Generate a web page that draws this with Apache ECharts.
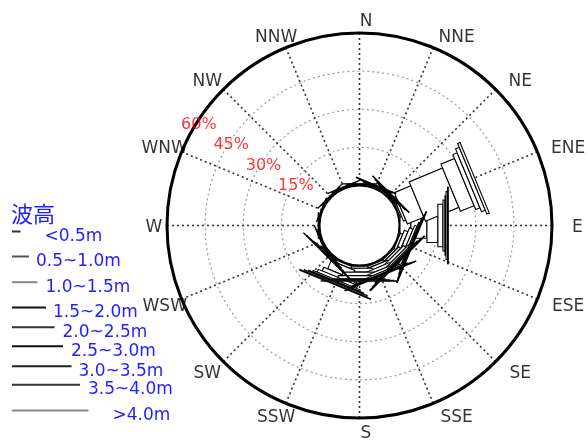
<!DOCTYPE html>
<html>
<head>
<meta charset="utf-8">
<script src="https://cdn.jsdelivr.net/npm/echarts@6/dist/echarts.min.js"></script>
<style>
  html, body { margin: 0; padding: 0; background: #fff; }
  #chart { width: 588px; height: 440px; }
</style>
</head>
<body>
<div id="chart"></div>
<script>
// Wave rose: frequency (%) of wave height classes by direction
const directions = ['N', 'NNE', 'NE', 'ENE', 'E', 'ESE', 'SE', 'SSE', 'S', 'SSW', 'SW', 'WSW', 'W', 'WNW', 'NW', 'NNW'];
const classNames = ['<0.5m', '0.5~1.0m', '1.0~1.5m', '1.5~2.0m', '2.0~2.5m', '2.5~3.0m', '3.0~3.5m', '3.5~4.0m', '>4.0m'];

const h_lt05   = [0.2, 0.2, 0.2, 0.3, 0.2, 0.3, 0.3, 0.3, 0.3, 0.3, 0.3, 0.2, 0.2, 0.2, 0.2, 0.2];
const h_05_10  = [0.2, 0.3, 0.3, 0.6, 4.3, 1.0, 0.8, 0.8, 0.8, 1.0, 0.4, 0.2, 0.2, 0.2, 0.2, 0.2];
const h_10_15  = [0.2, 0.4, 0.4, 1.0, 6.3, 1.5, 1.0, 1.2, 1.5, 3.5, 0.4, 0.2, 0.1, 0.1, 0.2, 0.2];
const h_15_20  = [0.1, 0.3, 0.4, 7.0, 4.3, 1.5, 1.2, 1.2, 1.4, 1.6, 0.3, 0.1, 0.0, 0.0, 0.1, 0.1];
const h_20_25  = [0.0, 0.2, 0.3, 14.2, 2.0, 1.0, 0.8, 1.0, 1.2, 1.2, 0.2, 0.0, 0.0, 0.0, 0.0, 0.0];
const h_25_30  = [0.0, 0.0, 0.2, 5.8, 0.8, 0.5, 0.5, 0.6, 0.4, 0.6, 0.1, 0.0, 0.0, 0.0, 0.0, 0.0];
const h_30_35  = [0.0, 0.0, 0.0, 1.8, 0.4, 0.3, 0.3, 0.3, 0.2, 0.4, 0.1, 0.0, 0.0, 0.0, 0.0, 0.0];
const h_35_40  = [0.0, 0.0, 0.0, 1.6, 0.6, 0.2, 0.2, 0.2, 0.2, 0.6, 0.1, 0.0, 0.0, 0.0, 0.0, 0.0];
const h_gt40   = [0.0, 0.0, 0.0, 1.0, 0.3, 0.3, 0.4, 0.2, 0.2, 0.3, 0.0, 0.0, 0.0, 0.0, 0.0, 0.0];

const classValues = [h_lt05, h_05_10, h_10_15, h_15_20, h_20_25, h_25_30, h_30_35, h_35_40, h_gt40];

const ringTicks = [15, 30, 45, 60];
const radiusMax = 60;

// ---- styling / layout ----
const BLUE = '#1f1fff';
const legendLineColors = ['#333', '#555', '#888', '#111', '#333', '#111', '#222', '#333', '#888'];
const legendRowY = [231, 256, 281.7, 307, 326.7, 345.7, 365.7, 384.3, 410];
const legendTextGap = [19, 2, 3, 2, 3, 3, 2, 3, 19];
const barWidthOf = k => 8.5 * (k + 1);           // pixel width of each height class
const CENTER = [359.5, 225.5];
const R_IN = 40, R_OUT = 192.5;

const angleOf = i => i * 22.5;

// stacked segments per class: [top, angle, base]
const seriesData = classValues.map((vals, k) => directions.map((d, i) => {
  let base = 0;
  for (let j = 0; j < k; j++) base += classValues[j][i];
  return [base + vals[i], angleOf(i), base];
}));

function renderSegment(k) {
  return function (params, api) {
    const top = api.value(0), ang = api.value(1), base = api.value(2);
    if (!(top - base > 0)) return null;
    const p0 = api.coord([base, ang]);
    const p1 = api.coord([top, ang]);
    const q = api.coord([base + 1, ang]);
    let ux = q[0] - p0[0], uy = q[1] - p0[1];
    const L = Math.hypot(ux, uy); ux /= L; uy /= L;
    const nx = -uy, ny = ux, h = barWidthOf(k) / 2;
    return {
      type: 'polygon',
      shape: { points: [
        [p0[0] + nx * h, p0[1] + ny * h], [p1[0] + nx * h, p1[1] + ny * h],
        [p1[0] - nx * h, p1[1] - ny * h], [p0[0] - nx * h, p0[1] - ny * h]
      ] },
      style: { fill: '#fff', stroke: '#000', lineWidth: 1.1 }
    };
  };
}

const barSeries = classNames.map((name, k) => ({
  name: name,
  type: 'custom',
  coordinateSystem: 'polar',
  polarIndex: 0,
  clip: false,
  itemStyle: { color: legendLineColors[k] },
  renderItem: renderSegment(k),
  data: seriesData[k],
  z: 3 + k
}));

// direction labels around the rim
const dirLabelR = (206 - R_IN) / (R_OUT - R_IN) * radiusMax;
const dirLabelSeries = {
  type: 'scatter',
  coordinateSystem: 'polar',
  polarIndex: 0,
  symbolSize: 0,
  silent: true,
  clip: false,
  z: 20,
  data: directions.map((d, i) => {
    const t = angleOf(i) * Math.PI / 180;
    const s = Math.sin(t);
    const side = Math.abs(s) < 1e-6 ? 0 : Math.sign(s);
    const spread = side > 0 ? 2 + 3.25 * d.length : 6 + 7 * Math.abs(Math.sin(2 * t));
    return {
      value: [dirLabelR, angleOf(i)],
      label: {
        show: true, position: 'inside', formatter: d,
        color: '#000', fontSize: 17, fontFamily: 'DejaVu Sans',
        offset: [6.5 + side * spread, 2]
      }
    };
  })
};

// ring percentage labels
const ringLabelSeries = {
  type: 'scatter',
  coordinateSystem: 'polar',
  polarIndex: 0,
  symbolSize: 0,
  silent: true,
  clip: false,
  z: 20,
  data: ringTicks.map(t => ({
    value: [t - 1.2, 302],
    label: {
      show: true, position: 'inside', formatter: t + '%',
      color: '#ff0000', fontSize: 16, fontFamily: 'DejaVu Sans'
    }
  }))
};

const hiddenRadius = idx => ({
  polarIndex: idx, type: 'value', min: 0, max: 1,
  axisLine: { show: false }, axisTick: { show: false }, axisLabel: { show: false }, splitLine: { show: false }
});
const ringAngle = (idx, width) => ({
  polarIndex: idx, type: 'value', min: 0, max: 360, startAngle: 90, clockwise: true,
  axisLine: { show: true, lineStyle: { color: '#000', width: width } },
  axisTick: { show: false }, axisLabel: { show: false }, splitLine: { show: false }
});

// each height class gets its own one-row legend so the key line can match the bar width
const legends = classNames.map((name, k) => ({
  data: [{ name: name, icon: 'rect', itemStyle: { color: legendLineColors[k] } }],
  left: 12,
  top: legendRowY[k] - 11.5,
  padding: 0,
  itemWidth: barWidthOf(k),
  itemHeight: 2,
  selectedMode: false,
  formatter: n => '{s| }\n{t|' + n + '}',
  textStyle: {
    padding: [0, 0, 0, legendTextGap[k]],
    rich: {
      s: { fontSize: 6, lineHeight: 10 },
      t: { color: BLUE, fontSize: 17, fontFamily: 'DejaVu Sans', lineHeight: 18 }
    }
  }
}));

const option = {
  backgroundColor: '#fff',
  animation: false,
  title: {
    text: '波高', left: 11, top: 203, padding: 0,
    textStyle: { color: BLUE, fontSize: 22, fontWeight: 'normal', fontFamily: 'Noto Sans CJK SC' }
  },
  legend: legends,
  polar: [
    { center: CENTER, radius: [R_IN, R_OUT] },
    { center: CENTER, radius: [0, R_OUT] },
    { center: CENTER, radius: [0, R_IN] }
  ],
  angleAxis: [
    {
      polarIndex: 0, type: 'value', min: 0, max: 360, interval: 22.5, startAngle: 90, clockwise: true,
      axisLine: { show: false }, axisTick: { show: false }, axisLabel: { show: false },
      splitLine: { show: true, lineStyle: { color: '#333', width: 1.6, type: [2, 3] } }
    },
    ringAngle(1, 3),
    ringAngle(2, 2)
  ],
  radiusAxis: [
    {
      polarIndex: 0, type: 'value', min: 0, max: radiusMax, interval: 15,
      axisLine: { show: false }, axisTick: { show: false }, axisLabel: { show: false },
      splitLine: { show: true, lineStyle: { color: '#9a9a9a', width: 1.2, type: [2, 3] } }
    },
    hiddenRadius(1),
    hiddenRadius(2)
  ],
  series: barSeries.concat([dirLabelSeries, ringLabelSeries])
};

const chart = echarts.init(document.getElementById('chart'), null, { renderer: 'canvas' });
chart.setOption(option);
</script>
</body>
</html>
